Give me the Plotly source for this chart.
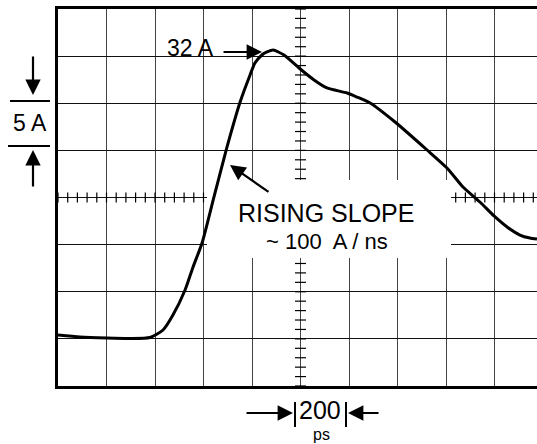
import plotly.graph_objects as go

# Trace: time (ps) vs current (A)
time_ps = [0, 91, 202, 297, 379, 433, 474, 524, 557, 594, 643, 697, 751, 792, 812,
           841, 862, 887, 932, 994, 1056, 1109, 1192, 1233, 1287, 1390, 1522, 1604,
           1670, 1740, 1798, 1852, 1905, 1946, 1975]
current_a = [0.41, 0.20, 0.09, 0.04, 0.15, 0.94, 2.53, 5.19, 7.63, 10.17, 15.05, 20.36,
             25.13, 28.00, 29.27, 30.12, 30.44, 30.65, 30.12, 28.74, 27.47, 26.62, 26.09,
             25.66, 25.03, 23.01, 20.04, 18.13, 16.11, 14.52, 13.04, 11.87, 11.02, 10.70,
             10.60]

peak_label = "32 A"
vdiv_label = "5 A"
slope_label_1 = "RISING SLOPE"
slope_label_2 = "~ 100  A / ns"
hdiv_label = "200"
hdiv_unit = "ps"

W, H = 537, 444
ML, MT, MB, MR = 58, 9, 58, 0
PW, PH = W - ML - MR, H - MT - MB
X_PER_DIV = 200.0
DIV_PX = 48.5
X_MAX = PW / DIV_PX * X_PER_DIV
Y_MIN, Y_MAX = -5, 35


def px(x):
    return (x - ML) / PW


def py(y):
    return (H - MB - y) / PH


def dx(x):
    return (x - ML) / DIV_PX * X_PER_DIV


def dy(y):
    return Y_MIN + (H - MB - y) / PH * (Y_MAX - Y_MIN)


fig = go.Figure()
fig.add_trace(go.Scatter(x=time_ps, y=current_a, mode="lines",
                         line=dict(color="black", width=3, shape="spline", smoothing=0.6),
                         hoverinfo="skip", showlegend=False))

shapes = []
# blank area behind the text (covers grid)
shapes.append(dict(type="rect", xref="x", yref="y", x0=dx(207), x1=dx(451), y0=dy(258), y1=dy(180),
                   fillcolor="white", line=dict(width=0), layer="between"))

# minor ticks on centre horizontal line
cy = 15
t = 0
while t <= X_MAX:
    if (t <= dx(205)) or (t >= dx(451)):
        shapes.append(dict(type="line", xref="x", yref="y", ysizemode="pixel", yanchor=cy,
                           x0=t, x1=t, y0=-5, y1=5, line=dict(color="black", width=1.2)))
    t += 40
# minor ticks on centre vertical line
cx = 1000
v = Y_MIN
while v <= Y_MAX + 1e-9:
    if v >= dy(183) or v <= dy(258):
        shapes.append(dict(type="line", xref="x", yref="y", xsizemode="pixel", xanchor=cx,
                           x0=-5.5, x1=5.5, y0=v, y1=v, line=dict(color="black", width=1.2)))
    v += 1

# 5 A scale marks on the left
shapes.append(dict(type="line", xref="paper", yref="paper", x0=px(10), x1=px(50), y0=py(101), y1=py(101),
                   line=dict(color="black", width=2)))
shapes.append(dict(type="line", xref="paper", yref="paper", x0=px(8), x1=px(50), y0=py(146), y1=py(146),
                   line=dict(color="black", width=2)))
# 200 ps bars
for xb in (295, 346):
    shapes.append(dict(type="line", xref="paper", yref="paper", x0=px(xb), x1=px(xb), y0=py(402), y1=py(427),
                       line=dict(color="black", width=2)))
fig.update_layout(shapes=shapes)

FONT = "Liberation Sans, Arial, sans-serif"


def text(x, y, s, size, yanchor="middle"):
    fig.add_annotation(xref="paper", yref="paper", x=px(x), y=py(y), text=s, showarrow=False,
                       font=dict(family=FONT, size=size, color="black"), xanchor="center", yanchor=yanchor,
                       borderpad=0)


def arrow(hx, hy, tx, ty):
    fig.add_annotation(xref="paper", yref="paper", x=px(hx), y=py(hy), ax=tx - hx, ay=ty - hy,
                       text="", showarrow=True, arrowhead=2, arrowsize=1.4, arrowwidth=2.2,
                       arrowcolor="black", standoff=0)


text(190, 48, peak_label, 23)
text(30, 123, vdiv_label, 23)
text(326, 213, slope_label_1, 25)
text(327, 241, slope_label_2, 22)
text(320, 425, hdiv_label, 25, yanchor="bottom")
text(321, 425, hdiv_unit, 16, yanchor="top")

arrow(262, 52, 222, 52)
arrow(230, 165, 270, 193)
arrow(33, 95, 33, 55)
arrow(33, 150, 33, 188)
arrow(293, 413, 245, 413)
arrow(348, 413, 380, 413)

fig.update_xaxes(range=[0, X_MAX], dtick=X_PER_DIV, tick0=0, showgrid=True, gridcolor="#444",
                 gridwidth=1, zeroline=False, showticklabels=False, ticks="",
                 showline=True, linecolor="black", linewidth=2.5, mirror=True, fixedrange=True)
fig.update_yaxes(range=[Y_MIN, Y_MAX], dtick=5, tick0=Y_MIN, showgrid=True, gridcolor="#111",
                 gridwidth=1.3, zeroline=False, showticklabels=False, ticks="",
                 showline=True, linecolor="black", linewidth=2.5, mirror=False, fixedrange=True)

fig.update_layout(width=W, height=H, margin=dict(l=ML, r=MR, t=MT, b=MB),
                  paper_bgcolor="white", plot_bgcolor="white", showlegend=False)

fig.write_html("out.html")
